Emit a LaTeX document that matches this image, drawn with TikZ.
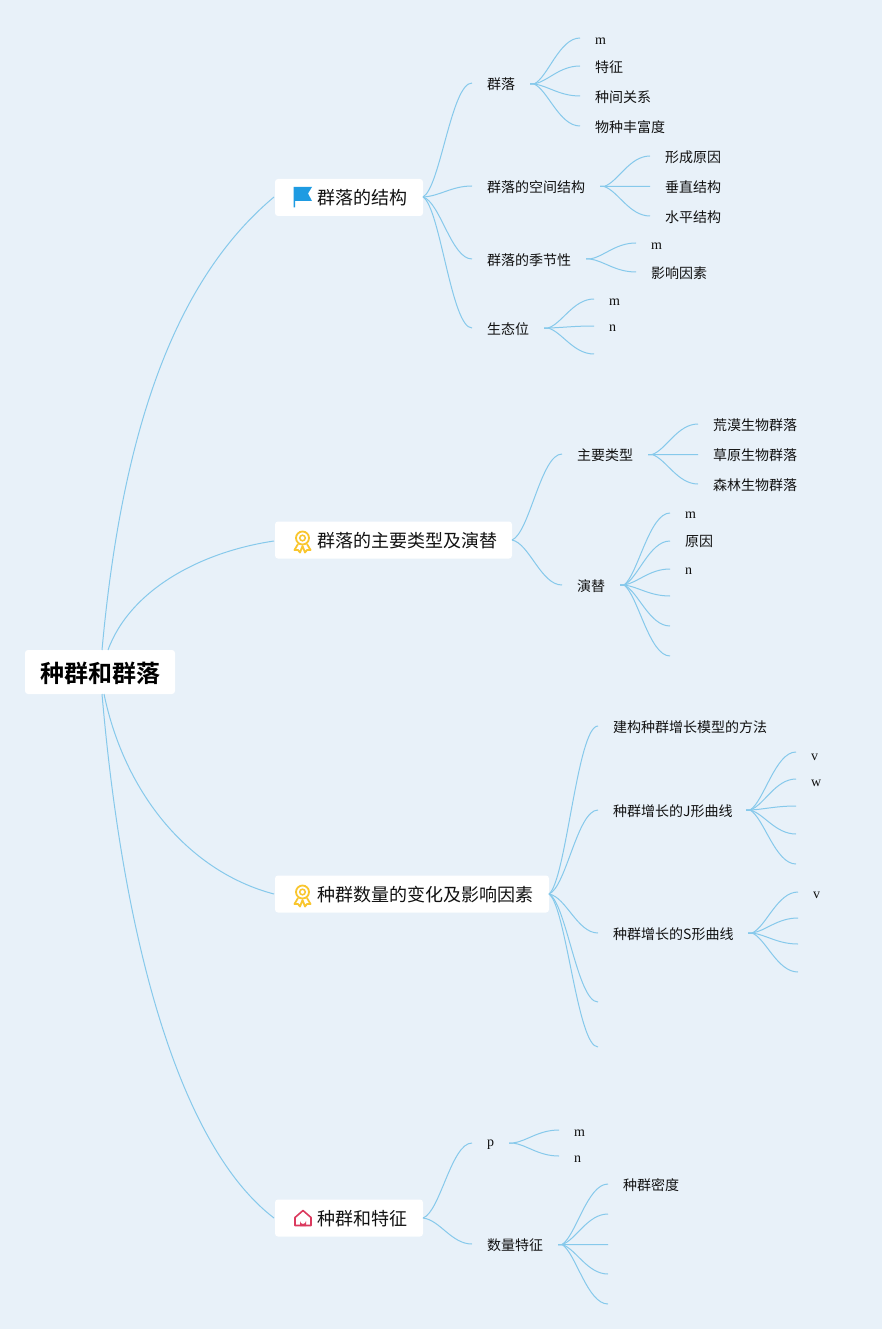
\documentclass[tikz,border=0pt]{standalone}
\usepackage{fontspec}
\setmainfont{Liberation Serif}
\newfontfamily\cjk[BoldFont={Noto Sans CJK SC Bold}]{Noto Sans CJK SC}
\usetikzlibrary{calc}
\definecolor{bgc}{HTML}{E8F1F9}
\definecolor{linkc}{HTML}{86C9EB}
\definecolor{inkc}{HTML}{111111}
\definecolor{medalc}{HTML}{F9C62E}
\definecolor{housec}{HTML}{DB3A5E}
\definecolor{flagc}{HTML}{1E9BE2}
\tikzset{
  x=1pt,y=-1pt,
  link/.style={draw=linkc,line width=1pt},
  lab/.style={anchor=west,inner sep=0pt,text=inkc,font=\cjk\fontsize{14}{14}\selectfont},
  latin/.style={anchor=west,inner sep=0pt,text=inkc,font=\fontsize{14}{14}\selectfont},
  topicbox/.style={fill=white,rounded corners=3pt,inner sep=0pt,text=inkc},
  topictext/.style={anchor=west,inner sep=0pt,text=inkc,font=\cjk\fontsize{18}{18}\selectfont},
}
% S-shaped link, arriving flat
\newcommand\lnk[2]{%
  \path ($(#1)!.35!(#2)$) coordinate (p1) ($(#1)!.08!(#2)$) coordinate (p2) ($(#1)!.58!(#2)$) coordinate (p3);
  \draw[link] (#1) .. controls (p1 |- p2) and (p3 |- #2) .. (#2);}
% fan link: short stub, then the same S, opening sooner
\newcommand\fan[2]{%
  \path (#1) ++(4,0) coordinate (s0);
  \path ($(s0)!.3!(#2)$) coordinate (p1) ($(s0)!.14!(#2)$) coordinate (p2) ($(s0)!.55!(#2)$) coordinate (p3);
  \draw[link] (#1) -- (s0) .. controls (p1 |- p2) and (p3 |- #2) .. (#2);}
\newcommand\medal[2]{%
  \begin{scope}[shift={(#1,#2)}]
    \draw[medalc,line width=1.8pt] (0,-3) circle (6.5);
    \draw[medalc,line width=1.5pt] (0,-3) circle (2.8);
    \draw[medalc,line width=1.8pt,line join=round] (-4.5,3) -- (-8,9) -- (-4.5,9) -- (-2.5,11.5) -- (0,5) -- (2.5,11.5) -- (4.5,9) -- (8,9) -- (4.5,3);
  \end{scope}}
\begin{document}
\begin{tikzpicture}
\useasboundingbox (0,0) rectangle (882,1329);
\fill[bgc] (0,0) rectangle (882,1329);

% root and main topics
\node[topicbox,minimum width=150pt,minimum height=44pt] (root) at (100,672) {};
\node[anchor=center,inner sep=0pt,text=black,font=\cjk\bfseries\fontsize{24}{24}\selectfont] (roott) at (100,673.5) {种群和群落};
\node[topicbox,minimum width=148pt,minimum height=37pt] (t1) at (349,197.5) {};
\node[topicbox,minimum width=237pt,minimum height=37pt] (t2) at (393.5,540) {};
\node[topicbox,minimum width=274pt,minimum height=37pt] (t3) at (412,894) {};
\node[topicbox,minimum width=148pt,minimum height=37pt] (t4) at (349,1218) {};
\node[topictext] (t1t) at (317,198) {群落的结构};
\node[topictext] (t2t) at (317,541) {群落的主要类型及演替};
\node[topictext] (t3t) at (317,895) {种群数量的变化及影响因素};
\node[topictext] (t4t) at (317,1219) {种群和特征};

% icons
\fill[flagc] (293.5,187) -- (312,187) -- (308,193.5) -- (312,201) -- (295,201) -- (295,207.5) -- (293.5,207.5) -- cycle;
\medal{302.5}{541}
\medal{302.5}{895}
\draw[housec,line width=1.6pt,line join=round] (295,1225.5) -- (295,1217.5) -- (303,1210.5) -- (311,1217.5) -- (311,1225.5) -- cycle;
\fill[housec] (300,1226) -- (300,1221) arc (180:0:3) -- (306,1226) -- cycle;

% anchors on the boxes
\coordinate (r1) at (102,650);
\coordinate (r2) at (108,650);
\coordinate (r3) at (104,694);
\coordinate (r4) at (102,694);
\coordinate (e1) at (274,197);
\coordinate (e2) at (274,541);
\coordinate (e3) at (274,894);
\coordinate (e4) at (274,1218);
\coordinate (o1) at (423,197);
\coordinate (o2) at (512,540);
\coordinate (o3) at (549,894);
\coordinate (o4) at (423,1218);

\draw[link] (r1) .. controls (122,430) and (175,280) .. (e1);
\draw[link] (r2) .. controls (130,590) and (200,552) .. (e2);
\draw[link] (r3) .. controls (125,795) and (190,872) .. (e3);
\draw[link] (r4) .. controls (125,960) and (185,1150) .. (e4);

% Topic 1
\node[lab] (a1) at (487,84) {群落};
\node[lab] (a2) at (487,187) {群落的空间结构};
\node[lab] (a3) at (487,260) {群落的季节性};
\node[lab] (a4) at (487,329) {生态位};
\coordinate (a1i) at (472,83);
\coordinate (a2i) at (472,186);
\coordinate (a3i) at (472,259);
\coordinate (a4i) at (472,328);
\lnk{o1}{a1i}\lnk{o1}{a2i}\lnk{o1}{a3i}\lnk{o1}{a4i}
\coordinate (a1o) at (530,84);
\coordinate (a2o) at (600,186.5);
\coordinate (a3o) at (586,259);
\coordinate (a4o) at (544,328);

\node[latin] (a11) at (595,41) {m};
\node[lab] (a12) at (595,67) {特征};
\node[lab] (a13) at (595,97) {种间关系};
\node[lab] (a14) at (595,127) {物种丰富度};
\coordinate (a11i) at (580,38);
\coordinate (a12i) at (580,66);
\coordinate (a13i) at (580,96);
\coordinate (a14i) at (580,126);
\fan{a1o}{a11i}\fan{a1o}{a12i}\fan{a1o}{a13i}\fan{a1o}{a14i}

\node[lab] (a21) at (665,157) {形成原因};
\node[lab] (a22) at (665,187) {垂直结构};
\node[lab] (a23) at (665,217) {水平结构};
\coordinate (a21i) at (650,156);
\coordinate (a22i) at (650,186.5);
\coordinate (a23i) at (650,216);
\fan{a2o}{a21i}\fan{a2o}{a22i}\fan{a2o}{a23i}

\node[latin] (a31) at (651,246.5) {m};
\node[lab] (a32) at (651,273) {影响因素};
\coordinate (a31i) at (636,243);
\coordinate (a32i) at (636,272);
\fan{a3o}{a31i}\fan{a3o}{a32i}

\node[latin] (a41) at (609,302.5) {m};
\node[latin] (a42) at (609,328.5) {n};
\coordinate (a41i) at (594,299);
\coordinate (a42i) at (594,326);
\coordinate (a43i) at (594,354);
\fan{a4o}{a41i}\fan{a4o}{a42i}\fan{a4o}{a43i}

% Topic 2
\node[lab] (b1) at (577,455) {主要类型};
\node[lab] (b2) at (577,586) {演替};
\coordinate (b1i) at (562,454);
\coordinate (b2i) at (562,585);
\lnk{o2}{b1i}\lnk{o2}{b2i}
\coordinate (b1o) at (648,454.5);
\coordinate (b2o) at (620,585);
\node[lab] (b11) at (713,425) {荒漠生物群落};
\node[lab] (b12) at (713,455) {草原生物群落};
\node[lab] (b13) at (713,485) {森林生物群落};
\coordinate (b11i) at (698,424);
\coordinate (b12i) at (698,454.5);
\coordinate (b13i) at (698,484);
\fan{b1o}{b11i}\fan{b1o}{b12i}\fan{b1o}{b13i}
\node[latin] (b21) at (685,515.5) {m};
\node[lab] (b22) at (685,541) {原因};
\node[latin] (b23) at (685,571.5) {n};
\coordinate (b21i) at (670,513);
\coordinate (b22i) at (670,541);
\coordinate (b23i) at (670,569);
\coordinate (b24i) at (670,596);
\coordinate (b25i) at (670,626);
\coordinate (b26i) at (670,656);
\fan{b2o}{b21i}\fan{b2o}{b22i}\fan{b2o}{b23i}\fan{b2o}{b24i}\fan{b2o}{b25i}\fan{b2o}{b26i}

% Topic 3
\node[lab] (c1) at (613,727) {建构种群增长模型的方法};
\node[lab] (c2) at (613,811) {种群增长的J形曲线};
\node[lab] (c3) at (613,934) {种群增长的S形曲线};
\coordinate (c1i) at (598,726);
\coordinate (c2i) at (598,810);
\coordinate (c3i) at (598,933);
\coordinate (c4i) at (598,1002);
\coordinate (c5i) at (598,1047);
\lnk{o3}{c1i}\lnk{o3}{c2i}\lnk{o3}{c3i}\lnk{o3}{c4i}\lnk{o3}{c5i}
\coordinate (c2o) at (746,810);
\coordinate (c3o) at (748,933);
\node[latin] (c21) at (811,757.5) {v};
\node[latin] (c22) at (811,783.5) {w};
\coordinate (c21i) at (796,752);
\coordinate (c22i) at (796,779);
\coordinate (c23i) at (796,806);
\coordinate (c24i) at (796,834);
\coordinate (c25i) at (796,864);
\fan{c2o}{c21i}\fan{c2o}{c22i}\fan{c2o}{c23i}\fan{c2o}{c24i}\fan{c2o}{c25i}
\node[latin] (c31) at (813,895.5) {v};
\coordinate (c31i) at (798,892);
\coordinate (c32i) at (798,918);
\coordinate (c33i) at (798,944);
\coordinate (c34i) at (798,972);
\fan{c3o}{c31i}\fan{c3o}{c32i}\fan{c3o}{c33i}\fan{c3o}{c34i}

% Topic 4
\node[latin] (d1) at (487,1145) {p};
\node[lab] (d2) at (487,1245) {数量特征};
\coordinate (d1i) at (472,1143);
\coordinate (d2i) at (472,1244);
\lnk{o4}{d1i}\lnk{o4}{d2i}
\coordinate (d1o) at (509,1143);
\coordinate (d2o) at (558,1244.5);
\node[latin] (d11) at (574,1133.5) {m};
\node[latin] (d12) at (574,1159.5) {n};
\coordinate (d11i) at (559,1130);
\coordinate (d12i) at (559,1156);
\fan{d1o}{d11i}\fan{d1o}{d12i}
\node[lab] (d21) at (623,1185) {种群密度};
\coordinate (d21i) at (608,1184);
\coordinate (d22i) at (608,1214);
\coordinate (d23i) at (608,1244.5);
\coordinate (d24i) at (608,1274);
\coordinate (d25i) at (608,1304);
\fan{d2o}{d21i}\fan{d2o}{d22i}\fan{d2o}{d23i}\fan{d2o}{d24i}\fan{d2o}{d25i}
\end{tikzpicture}
\end{document}
